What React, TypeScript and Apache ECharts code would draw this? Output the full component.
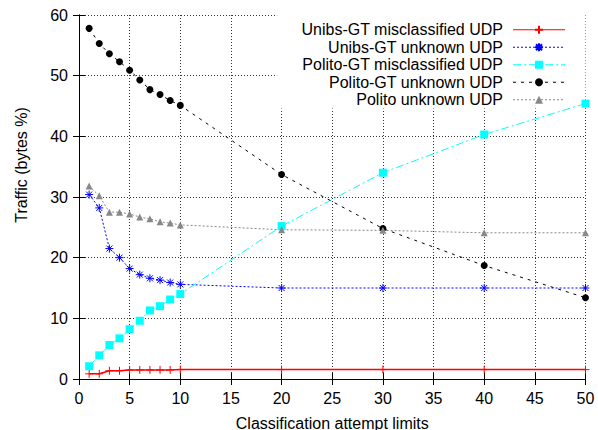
import React, { useEffect, useRef } from "react";
import * as echarts from "echarts";

const attemptLimits = [1, 2, 3, 4, 5, 6, 7, 8, 9, 10, 20, 30, 40, 50];
const unibsMisclassified = [0.85, 0.85, 1.35, 1.35, 1.5, 1.5, 1.5, 1.5, 1.5, 1.55, 1.55, 1.55, 1.55, 1.55];
const unibsUnknown = [30.4, 28.2, 21.5, 20.0, 18.2, 17.2, 16.6, 16.3, 15.9, 15.6, 15.0, 15.0, 15.0, 15.0];
const politoGTMisclassified = [2.1, 3.9, 5.6, 6.7, 8.2, 9.6, 11.3, 12.0, 13.1, 14.0, 25.2, 34.0, 40.3, 45.4];
const politoGTUnknown = [57.8, 55.3, 53.6, 52.3, 50.9, 49.3, 47.7, 46.9, 45.9, 45.1, 33.7, 24.8, 18.7, 13.4];
const politoUnknown = [31.8, 30.2, 27.5, 27.5, 27.2, 26.7, 26.4, 25.9, 25.7, 25.4, 24.6, 24.5, 24.1, 24.1];

const seriesNames = [
  "Unibs-GT misclassified UDP",
  "Unibs-GT unknown UDP",
  "Polito-GT misclassified UDP",
  "Polito-GT unknown UDP",
  "Polito unknown UDP",
];

const FONT = "'Liberation Sans', Arial, sans-serif";

const pair = (ys: number[]) => attemptLimits.map((x, i) => [x, ys[i]]);

export default function App() {
  const ref = useRef<HTMLDivElement>(null);
  useEffect(() => {
    if (!ref.current) return;
    const chart = echarts.init(ref.current, null, { renderer: "svg" });
    const axisCommon = {
      type: "value" as const,
      axisLine: { show: true, lineStyle: { color: "#000", width: 1 } },
      axisTick: { show: true, inside: true, length: 6, lineStyle: { color: "#000" } },
    };
    chart.setOption({
      animation: false,
      backgroundColor: "#fff",
      textStyle: { fontFamily: FONT },
      grid: { left: 79, right: 12.5, top: 15, bottom: 51, containLabel: false, outerBoundsMode: "none" },
      legend: {
        orient: "vertical",
        right: 12.5,
        top: 15,
        z: 1,
        align: "right",
        itemWidth: 52,
        itemHeight: 10,
        itemGap: 0,
        padding: [6, 20, 0, 24],
        backgroundColor: "#fff",
        data: seriesNames,
        lineStyle: { width: 1 },
        textStyle: { fontSize: 16, lineHeight: 17.5, color: "#000", fontFamily: FONT, padding: [0, 5, 0, 0] },
      },
      xAxis: [
        {
          ...axisCommon,
          min: 0,
          max: 50,
          interval: 5,
          position: "bottom",
          name: "Classification attempt limits",
          nameLocation: "middle",
          nameGap: 36,
          nameTextStyle: { fontSize: 16, color: "#000", fontFamily: FONT },
          axisLabel: { fontSize: 16, color: "#000", margin: 11, fontFamily: FONT },
          splitLine: { show: true, lineStyle: { color: "#333", type: [1, 2], width: 1 } },
        },
        {
          ...axisCommon,
          min: 0,
          max: 50,
          interval: 5,
          position: "top",
          axisLabel: { show: false },
          splitLine: { show: false },
        },
      ],
      yAxis: [
        {
          ...axisCommon,
          min: 0,
          max: 60,
          interval: 10,
          position: "left",
          name: "Traffic (bytes %)",
          nameLocation: "middle",
          nameGap: 50,
          nameTextStyle: { fontSize: 16, color: "#000", fontFamily: FONT, padding: [0, 0, 0, 64] },
          axisLabel: { fontSize: 16, color: "#000", margin: 11, fontFamily: FONT },
          splitLine: { show: true, lineStyle: { color: "#333", type: [1, 2], width: 1 } },
        },
        {
          ...axisCommon,
          min: 0,
          max: 60,
          interval: 10,
          position: "right",
          axisLabel: { show: false },
          splitLine: { show: false },
        },
      ],
      series: [
        {
          name: seriesNames[0],
          type: "line",
          z: 3,
          data: pair(unibsMisclassified),
          symbol: "path://M0,4H8M4,0V8",
          symbolSize: 8,
          lineStyle: { color: "#ff0000", width: 1.5, type: "solid" },
          itemStyle: { color: "#ff0000", borderColor: "#ff0000", borderWidth: 1 },
        },
        {
          name: seriesNames[1],
          type: "line",
          z: 3,
          data: pair(unibsUnknown),
          symbol: "path://M0,4H8M4,0V8M1,1L7,7M7,1L1,7",
          symbolSize: 8,
          lineStyle: { color: "#0000ff", width: 1, type: [2, 2] },
          itemStyle: { color: "#0000ff", borderColor: "#0000ff", borderWidth: 1 },
        },
        {
          name: seriesNames[2],
          type: "line",
          z: 3,
          data: pair(politoGTMisclassified),
          symbol: "rect",
          symbolSize: 8,
          lineStyle: { color: "#00ffff", width: 1, type: [8, 3, 2, 3] },
          itemStyle: { color: "#00ffff", borderWidth: 0 },
        },
        {
          name: seriesNames[3],
          type: "line",
          z: 3,
          data: pair(politoGTUnknown),
          symbol: "circle",
          symbolSize: 7,
          lineStyle: { color: "#000000", width: 1, type: [3, 5] },
          itemStyle: { color: "#000000", borderWidth: 0 },
        },
        {
          name: seriesNames[4],
          type: "line",
          z: 3,
          data: pair(politoUnknown),
          symbol: "triangle",
          symbolSize: 7,
          lineStyle: { color: "#888888", width: 1, type: [2, 2] },
          itemStyle: { color: "#888888", borderWidth: 0 },
        },
      ],
    });
    return () => chart.dispose();
  }, []);
  return (
    <div
      ref={ref}
      style={{ position: "fixed", left: 0, top: 0, width: 598, height: 430 }}
    />
  );
}
